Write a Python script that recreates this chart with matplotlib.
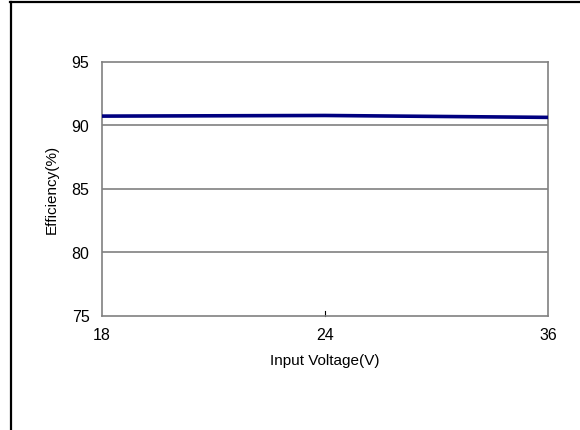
"""Efficiency vs input voltage chart."""

import matplotlib
matplotlib.use("Agg")
import matplotlib.pyplot as plt
from matplotlib.lines import Line2D

plt.rcParams["font.family"] = ["Liberation Sans", "DejaVu Sans"]

# Data
voltages = ["18", "24", "36"]
efficiency = [90.70, 90.75, 90.60]
y_ticks = [75, 80, 85, 90, 95]

fig = plt.figure(figsize=(5.8, 4.31), dpi=100)
ax = fig.add_axes([102 / 580, 1 - 316.5 / 431, 446 / 580, 254 / 431])

x = list(range(len(voltages)))
ax.plot(x, efficiency, color="#000080", linewidth=2.6, solid_capstyle="butt", zorder=3)

ax.set_xlim(0, len(voltages) - 1)
ax.set_ylim(75, 95)
ax.set_xticks(x)
ax.set_xticklabels(voltages)
ax.set_yticks(y_ticks)

# horizontal grid only
for v in y_ticks[1:-1]:
    ax.axhline(v, color="#808080", linewidth=1.2, zorder=1)

for s in ax.spines.values():
    s.set_color("#808080")
    s.set_linewidth(1.2)

ax.tick_params(axis="both", labelsize=11.5, colors="black", length=0)
ax.tick_params(axis="y", pad=9)
ax.tick_params(axis="x", pad=8)
# small inward tick at middle category
ax.plot([1, 1], [75, 75.35], color="black", linewidth=0.8, zorder=2, clip_on=False)

ax.set_xlabel("Input Voltage(V)", fontsize=11, labelpad=8)
ax.set_ylabel("Efficiency(%)", fontsize=11, labelpad=9)

# outer frame (only left and top edges visible)
fig.add_artist(Line2D([10.5 / 580, 10.5 / 580], [0, 1 - 3 / 431], transform=fig.transFigure,
                      color="black", linewidth=1.6))
fig.add_artist(Line2D([10 / 580, 1], [1 - 3 / 431, 1 - 3 / 431], transform=fig.transFigure,
                      color="black", linewidth=1.6))

fig.savefig("out.png", dpi=100)
plt.close(fig)
